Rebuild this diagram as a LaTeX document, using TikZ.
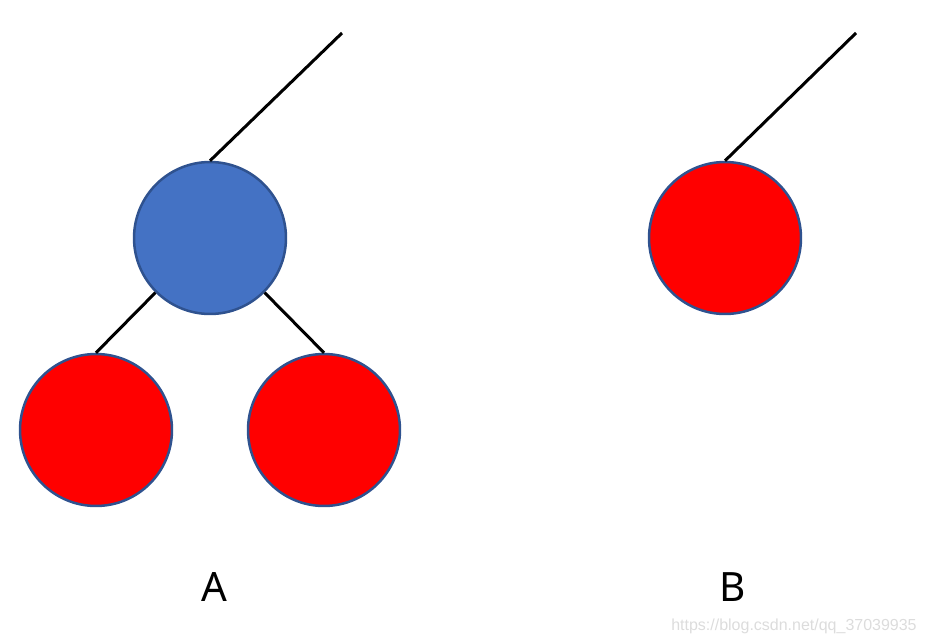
\documentclass[tikz,border=0pt]{standalone}
\usepackage{fontspec}
\setmainfont{Noto Sans}
\newfontfamily\wmfont{Liberation Sans}
\definecolor{bluefill}{HTML}{4472C4}
\definecolor{ringcol}{HTML}{2F528F}
\definecolor{wmgray}{HTML}{DCDCDC}
\begin{document}
\begin{tikzpicture}[x=0.02cm,y=-0.02cm,
  ball/.style={circle,draw=ringcol,line width=0.05cm,minimum size=3.04cm,inner sep=0pt},
  edge/.style={line width=0.06cm,black},
  lbl/.style={font=\fontsize{23}{26}\selectfont,inner sep=0pt}]
\useasboundingbox (0,0) rectangle (926,642);
\node[ball,fill=bluefill] (p) at (210,238) {};
\node[ball,fill=red] (l) at (96,430) {};
\node[ball,fill=red] (r) at (324,430) {};
\node[ball,fill=red] (b) at (725,238) {};
\coordinate (pt) at (342,33);
\coordinate (bt) at (856,33);
\draw[edge] (p.north) -- (pt);
\draw[edge] (p.225) -- (l.north);
\draw[edge] (p.315) -- (r.north);
\draw[edge] (b.north) -- (bt);
\node[lbl,anchor=base] (la) at (214,601) {A};
\node[lbl,anchor=base] (lb) at (733,601) {B};
\node[font=\wmfont\fontsize{9.1}{11}\selectfont,text=wmgray,anchor=base east,inner sep=0pt] (wm) at (917,630) {https://blog.csdn.net/qq\_37039935};
\end{tikzpicture}
\end{document}
